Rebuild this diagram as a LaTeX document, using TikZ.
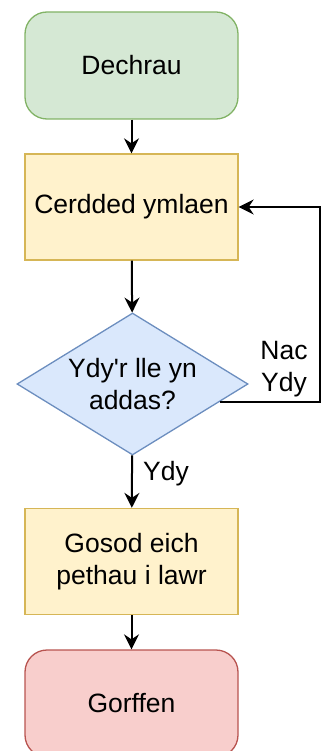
\documentclass[tikz,border=0pt]{standalone}
\usepackage{fontspec}
\setmainfont{Liberation Sans}
\usetikzlibrary{arrows.meta, shapes.geometric, calc}
\definecolor{termStart}{RGB}{213,232,212}
\definecolor{termStartLine}{RGB}{130,179,102}
\definecolor{stepFill}{RGB}{255,242,204}
\definecolor{stepLine}{RGB}{214,182,86}
\definecolor{askFill}{RGB}{218,232,252}
\definecolor{askLine}{RGB}{108,142,191}
\definecolor{termEnd}{RGB}{248,206,204}
\definecolor{termEndLine}{RGB}{184,84,80}

\begin{document}
\begin{tikzpicture}[x=1pt, y=-1pt,
        every node/.style={font=\fontsize{26.5}{31.5}\selectfont},
        term/.style={draw=#1Line, fill=#1, line width=1.3pt, minimum width=213pt,
                     minimum height=107pt, rounded corners=22pt},
        stepbox/.style={draw=stepLine, fill=stepFill, line width=1.3pt, minimum width=213pt,
                        minimum height=106pt, align=center},
        ask/.style={diamond, draw=askLine, fill=askFill, line width=1.3pt, inner sep=0pt,
                    minimum width=231pt, minimum height=142pt},
        arr/.style={-{Stealth[length=15pt, width=15pt, inset=5pt]}, line width=2pt}
      ]
        \useasboundingbox (0,0) rectangle (324,751);
        \node[term=termStart] (start) at (131.5,65.5)  {Dechrau};
        \node[stepbox]        (walk)  at (131.5,207)   {Cerdded ymlaen};
        \node[ask, label={[align=center]center:Ydy\textquotesingle r lle yn\\addas?}]
                              (check) at (132.5,384)   {};
        \node[stepbox]        (drop)  at (131.5,561.5) {Gosod eich\\pethau i lawr};
        \node[term=termEnd]   (stop)  at (131.5,703.5) {Gorffen};
        \draw[arr] (start)--(walk); \draw[arr] (walk)--(check);
        \draw[arr] (check)--(drop); \draw[arr] (drop)--(stop);
        % back to walking when the place is no good
        \draw[arr] ($(check.east)!0.5!(check.south east)$) -- ++(100,0) |- (walk.east);
        \node[align=center] (no)  at (284,369) {Nac\\Ydy};
        \node[anchor=base west, inner sep=0pt] (yes) at (143,480) {Ydy};
      \end{tikzpicture}
\end{document}
